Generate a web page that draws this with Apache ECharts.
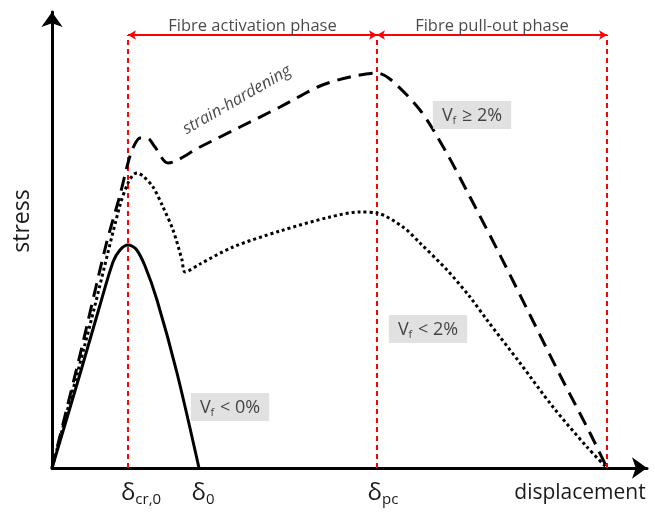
<!DOCTYPE html>
<html>
<head>
<meta charset="utf-8">
<script src="https://cdn.jsdelivr.net/npm/echarts@6/dist/echarts.min.js"></script>
<style>html,body{margin:0;padding:0;background:#fff}#c{width:655px;height:512px}</style>
</head>
<body>
<div id="c"></div>
<script>
// ---- data (displacement, stress) in arbitrary units ----
const plainCurve = [[0,0],[28,94],[48,163],[61,206],[68,218],[76,223],[84,219],[93,202],[105,168],[125,95],[147,0]];
const lowFibreCurve = [[0,0],[38,143],[68,263],[76,285],[81,293],[85,295],[91,292],[101,281],[111,261],[121,238],[130,208],[133,196],[148,204],[181,221],[228,237],[278,251],[308,256],[325,255],[351,241],[368,225],[395,198],[418,171],[435,148],[468,105],[501,61],[535,21],[555,0]];
const highFibreCurve = [[0,0],[28,113],[54,223],[68,273],[76,305],[81,320],[88,330],[95,330],[103,321],[116,305],[148,321],[188,341],[228,361],[268,382],[298,391],[325,395],[338,389],[368,358],[393,318],[418,271],[448,213],[478,153],[508,93],[538,35],[555,0]];
const phaseBounds = [76, 325, 555];
const phaseArrowY = 433;
const phaseNames = ['Fibre activation phase', 'Fibre pull-out phase'];
const tickValues = [89, 151, 331];
const tickLabels = ['{d|δ}{s|cr,0}', '{d|δ}{s|0}', '{d|δ}{s|pc}'];
const annotations = [
  {name:'strain-hardening', value:[185,368], kind:'italic'},
  {name:'{v|V}{f|f}{v| ≥ 2%}', value:[420,353], kind:'box'},
  {name:'{v|V}{f|f}{v| < 2%}', value:[376,139], kind:'box'},
  {name:'{v|V}{f|f}{v| < 0%}', value:[178,61], kind:'box'}
];
const xMax = 595, yMax = 456;

const FONT = '"Open Sans", "DejaVu Sans", sans-serif';
const chart = echarts.init(document.getElementById('c'), null, {renderer:'canvas'});

const markLines = [];
phaseBounds.forEach(x => {
  markLines.push([{coord:[x,0], lineStyle:{color:'#ff0000', width:2, type:[5,4]}, symbol:'none'},
                  {coord:[x,phaseArrowY], symbol:'none'}]);
});
for (let i = 0; i < phaseBounds.length - 1; i++) {
  markLines.push([{coord:[phaseBounds[i],phaseArrowY], lineStyle:{color:'#ff0000', width:2, type:'solid'}, symbol:'arrow', symbolSize:[7,8]},
                  {coord:[phaseBounds[i+1],phaseArrowY], symbol:'arrow', symbolSize:[7,8]}]);
}
const phaseLabels = phaseNames.map((n, i) => ({name:n, value:[(phaseBounds[i]+phaseBounds[i+1])/2, phaseArrowY+9]}));

const boxRich = {
  v:{fontSize:18, color:'#1a1a1a', fontFamily:FONT},
  f:{fontSize:11, color:'#1a1a1a', fontFamily:FONT, padding:[9,1,0,0]}
};

chart.setOption({
  animation:false,
  grid:{left:52, right:8, top:12, bottom:44},
  xAxis:{type:'value', min:0, max:xMax,
    axisLine:{show:true, lineStyle:{color:'#000', width:3}, symbol:['none','arrow'], symbolSize:[16,15]},
    axisTick:{show:false}, splitLine:{show:false},
    axisLabel:{show:true, customValues:tickValues, margin:12,
      formatter:(v)=>{const i = tickValues.indexOf(v); return i>=0 ? tickLabels[i] : '';},
      rich:{d:{fontSize:24, color:'#1a1a1a', fontFamily:FONT},
            s:{fontSize:15, color:'#1a1a1a', fontFamily:FONT, padding:[12,0,0,0]}}}
  },
  yAxis:{type:'value', min:0, max:yMax,
    axisLine:{show:true, lineStyle:{color:'#000', width:3}, symbol:['none','arrow'], symbolSize:[16,15]},
    axisTick:{show:false}, splitLine:{show:false}, axisLabel:{show:false}
  },
  graphic:[
    {type:'text', x:22, y:221, rotation:Math.PI/2, style:{text:'stress', font:'23px '+FONT, fill:'#1a1a1a', textAlign:'center', textVerticalAlign:'middle'}},
    {type:'text', x:580, y:493, style:{text:'displacement', font:'21px '+FONT, fill:'#1a1a1a', textAlign:'center', textVerticalAlign:'middle'}}
  ],
  series:[
    {type:'line', data:plainCurve, showSymbol:false, smooth:0.3, lineStyle:{color:'#000', width:3}, z:5},
    {type:'line', data:lowFibreCurve, showSymbol:false, smooth:0.3, lineStyle:{color:'#000', width:3, type:[3,3], cap:'butt'}, z:5},
    {type:'line', data:highFibreCurve, showSymbol:false, smooth:0.3, lineStyle:{color:'#000', width:3, type:[14,8], cap:'butt'}, z:5,
      markLine:{silent:true, animation:false, label:{show:false}, data:markLines}},
    {type:'scatter', data:phaseLabels, symbolSize:0, clip:false, z:6,
      label:{show:true, position:'inside', formatter:'{b}', fontSize:16.5, color:'#1a1a1a', fontFamily:FONT}},
    {type:'scatter', clip:false, symbolSize:0, z:7,
      data:annotations.map(a => a.kind === 'italic' ?
        {name:a.name, value:a.value, label:{show:true, position:'inside', formatter:'{b}', rotate:30, fontSize:16.5, fontStyle:'italic', color:'#1a1a1a', fontFamily:FONT}} :
        {name:a.name, value:a.value, label:{show:true, position:'inside', formatter:'{b}', backgroundColor:'#d9d9d9', padding:[5,9,3,9], rich:boxRich}})
    }
  ]
});
</script>
</body>
</html>
